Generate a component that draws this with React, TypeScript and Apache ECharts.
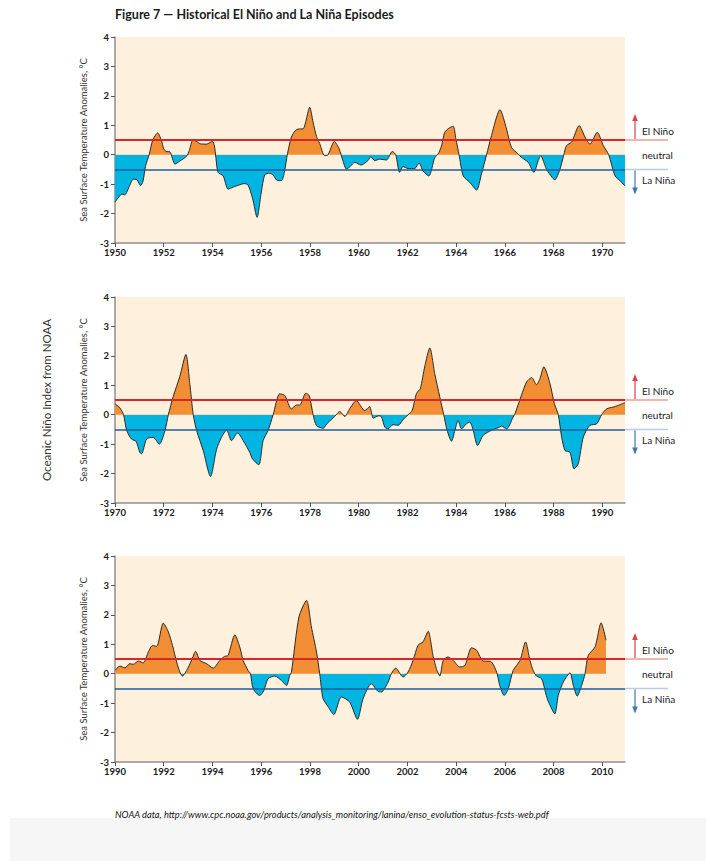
import React, { useEffect, useRef } from "react";
import * as echarts from "echarts";

// ---- Data (Oceanic Niño Index) ----
const oni1950to1970: [number, number][] = [
  [1950.0, -1.6], [1950.15, -1.45], [1950.27, -1.34], [1950.4, -1.36], [1950.6, -1.05], [1950.75, -0.83],
  [1950.9, -0.85], [1951.05, -1.05], [1951.15, -0.9], [1951.25, -0.4], [1951.4, 0.0], [1951.55, 0.5],
  [1951.75, 0.74], [1951.9, 0.5], [1952.0, 0.2], [1952.1, 0.11], [1952.25, 0.1], [1952.46, -0.32],
  [1952.65, -0.22], [1952.94, -0.05], [1953.05, 0.15], [1953.2, 0.5], [1953.35, 0.45], [1953.5, 0.37],
  [1953.75, 0.36], [1954.0, 0.45], [1954.08, 0.3], [1954.14, -0.1], [1954.23, -0.6], [1954.44, -0.72],
  [1954.64, -1.17], [1954.85, -1.1], [1955.12, -1.02], [1955.3, -0.98], [1955.46, -1.03], [1955.65, -1.5],
  [1955.83, -2.13], [1956.0, -1.3], [1956.15, -0.68], [1956.35, -0.63], [1956.5, -0.7], [1956.63, -0.86],
  [1956.83, -0.88], [1956.95, -0.6], [1957.05, -0.1], [1957.12, 0.2], [1957.24, 0.6], [1957.4, 0.82],
  [1957.51, 0.87], [1957.72, 0.88], [1957.99, 1.61], [1958.13, 1.1], [1958.27, 0.62], [1958.4, 0.38],
  [1958.6, -0.03], [1958.72, -0.02], [1959.0, 0.45], [1959.2, 0.2], [1959.35, -0.2], [1959.5, -0.49],
  [1959.65, -0.4], [1959.84, -0.26], [1960.1, -0.35], [1960.38, -0.2], [1960.5, -0.07], [1960.66, -0.2],
  [1960.86, -0.15], [1961.14, -0.18], [1961.38, 0.11], [1961.52, 0.0], [1961.68, -0.6], [1961.82, -0.4],
  [1962.03, -0.47], [1962.3, -0.47], [1962.48, -0.28], [1962.64, -0.55], [1962.88, -0.72], [1963.12, -0.1],
  [1963.26, 0.02], [1963.4, 0.3], [1963.53, 0.76], [1963.7, 0.9], [1963.88, 0.97], [1963.99, 0.53],
  [1964.12, 0.0], [1964.29, -0.72], [1964.56, -0.94], [1964.84, -1.2], [1965.04, -0.65], [1965.25, 0.0],
  [1965.45, 0.65], [1965.8, 1.53], [1966.07, 0.87], [1966.27, 0.25], [1966.55, 0.02], [1966.68, -0.09],
  [1966.96, -0.26], [1967.19, -0.6], [1967.37, -0.2], [1967.47, -0.03], [1967.71, -0.49], [1968.05, -0.85],
  [1968.26, -0.49], [1968.42, 0.0], [1968.53, 0.31], [1968.74, 0.43], [1969.05, 0.99], [1969.29, 0.6],
  [1969.49, 0.36], [1969.79, 0.76], [1970.04, 0.31], [1970.26, 0.0], [1970.52, -0.72], [1970.73, -0.89],
  [1970.93, -1.06],
];

const oni1970to1990: [number, number][] = [
  [1970.0, 0.37], [1970.2, 0.23], [1970.35, 0.0], [1970.48, -0.54], [1970.68, -0.83], [1970.86, -0.9],
  [1971.02, -1.28], [1971.09, -1.33], [1971.3, -0.82], [1971.57, -0.77], [1971.82, -1.0], [1972.05, -0.54],
  [1972.19, 0.0], [1972.39, 0.62], [1972.66, 1.3], [1972.91, 2.05], [1973.07, 1.05], [1973.21, 0.0],
  [1973.35, -0.54], [1973.62, -1.22], [1973.92, -2.1], [1974.17, -1.17], [1974.37, -0.77], [1974.58, -0.52],
  [1974.78, -0.88], [1975.03, -0.62], [1975.26, -0.88], [1975.53, -1.28], [1975.64, -1.5], [1975.9, -1.7],
  [1976.08, -0.88], [1976.28, -0.54], [1976.49, 0.0], [1976.76, 0.71], [1976.97, 0.65], [1977.24, 0.2],
  [1977.45, 0.33], [1977.58, 0.33], [1977.83, 0.73], [1977.97, 0.65], [1978.13, 0.0], [1978.27, -0.37],
  [1978.55, -0.46], [1978.68, -0.32], [1978.95, -0.11], [1979.08, 0.0], [1979.22, 0.11], [1979.43, -0.06],
  [1979.63, 0.2], [1979.9, 0.48], [1980.25, 0.14], [1980.45, 0.27], [1980.6, -0.12], [1980.8, -0.04],
  [1980.93, -0.06], [1981.07, -0.42], [1981.2, -0.48], [1981.41, -0.34], [1981.62, -0.36], [1981.82, -0.17],
  [1982.03, 0.0], [1982.2, 0.15], [1982.37, 0.72], [1982.53, 0.89], [1982.71, 1.63], [1982.92, 2.27],
  [1983.12, 1.4], [1983.33, 0.6], [1983.49, 0.0], [1983.63, -0.53], [1983.81, -0.9], [1983.95, -0.53],
  [1984.08, -0.19], [1984.22, -0.48], [1984.42, -0.31], [1984.56, -0.25], [1984.7, -0.53], [1984.88, -1.05],
  [1985.11, -0.7], [1985.45, -0.53], [1985.73, -0.44], [1985.86, -0.39], [1986.07, -0.48], [1986.34, -0.08],
  [1986.4, 0.0], [1986.68, 0.66], [1986.89, 1.11], [1987.1, 1.26], [1987.3, 1.02], [1987.44, 1.23],
  [1987.6, 1.63], [1987.85, 1.06], [1988.03, 0.38], [1988.19, 0.0], [1988.33, -0.76], [1988.47, -1.22],
  [1988.67, -1.27], [1988.84, -1.84], [1989.01, -1.67], [1989.22, -0.76], [1989.49, -0.36], [1989.77, -0.31],
  [1989.97, 0.0], [1990.18, 0.2], [1990.45, 0.26], [1990.66, 0.32], [1990.93, 0.41],
];

const oni1990to2010: [number, number][] = [
  [1990.0, 0.11], [1990.2, 0.26], [1990.41, 0.2], [1990.61, 0.34], [1990.75, 0.32], [1990.96, 0.43],
  [1991.16, 0.37], [1991.37, 0.74], [1991.54, 0.96], [1991.71, 0.93], [1991.98, 1.72], [1992.19, 1.42],
  [1992.36, 0.96], [1992.53, 0.4], [1992.66, 0.06], [1992.77, -0.08], [1992.94, 0.11], [1993.14, 0.45],
  [1993.31, 0.76], [1993.48, 0.45], [1993.76, 0.34], [1994.03, 0.19], [1994.3, 0.45], [1994.5, 0.59],
  [1994.64, 0.62], [1994.92, 1.32], [1995.12, 0.91], [1995.26, 0.45], [1995.46, 0.11], [1995.56, 0.0],
  [1995.67, -0.51], [1995.94, -0.74], [1996.11, -0.57], [1996.28, -0.17], [1996.56, -0.08], [1996.83, -0.23],
  [1997.04, -0.4], [1997.17, -0.06], [1997.24, 0.05], [1997.55, 1.93], [1997.86, 2.49], [1998.06, 1.59],
  [1998.27, 0.74], [1998.4, 0.0], [1998.54, -0.85], [1998.74, -1.11], [1998.98, -1.39], [1999.29, -0.79],
  [1999.63, -0.96], [1999.95, -1.55], [2000.18, -0.85], [2000.52, -0.34], [2000.79, -0.6], [2000.93, -0.62],
  [2001.21, -0.28], [2001.34, 0.0], [2001.52, 0.19], [2001.82, -0.11], [2002.03, 0.06], [2002.23, 0.45],
  [2002.44, 0.97], [2002.64, 1.08], [2002.85, 1.44], [2003.05, 0.62], [2003.19, 0.17], [2003.33, -0.08],
  [2003.47, 0.45], [2003.67, 0.57], [2003.88, 0.45], [2004.15, 0.23], [2004.36, 0.28], [2004.63, 0.88],
  [2004.84, 0.8], [2005.11, 0.43], [2005.41, 0.42], [2005.66, 0.06], [2005.79, -0.4], [2005.97, -0.74],
  [2006.14, -0.51], [2006.34, 0.11], [2006.62, 0.45], [2006.85, 1.08], [2007.03, 0.45], [2007.16, 0.11],
  [2007.3, -0.08], [2007.51, -0.17], [2007.68, -0.68], [2007.78, -0.94], [2008.05, -1.36], [2008.19, -0.74],
  [2008.4, -0.28], [2008.67, 0.03], [2008.81, -0.4], [2008.97, -0.76], [2009.15, -0.4], [2009.29, 0.0],
  [2009.42, 0.62], [2009.7, 0.91], [2009.95, 1.73], [2010.15, 1.14],
];

const panelData = [oni1950to1970, oni1970to1990, oni1990to2010];
const xStart = [1950, 1970, 1990];
const xEnd = [1970.93, 1990.93, 2010.93];
const xTicks1 = [1950, 1952, 1954, 1956, 1958, 1960, 1962, 1964, 1966, 1968, 1970];
const xTicks2 = [1970, 1972, 1974, 1976, 1978, 1980, 1982, 1984, 1986, 1988, 1990];
const xTicks3 = [1990, 1992, 1994, 1996, 1998, 2000, 2002, 2004, 2006, 2008, 2010];
const panelTicks = [xTicks1, xTicks2, xTicks3];
const yMin = -3;
const yMax = 4;
const elNinoLevel = 0.5;
const laNinaLevel = -0.5;

const TITLE = "Figure 7 \u2014 Historical El Niño and La Niña Episodes";
const Y_NAME = "Sea Surface Temperature Anomalies, °C";
const SIDE_TITLE = "Oceanic Niño Index from NOAA";
const SOURCE =
  "NOAA data, http://www.cpc.noaa.gov/products/analysis_monitoring/lanina/enso_evolution-status-fcsts-web.pdf";
const LABEL_EL = "El Niño";
const LABEL_NEUTRAL = "neutral";
const LABEL_LA = "La Niña";

// ---- Styles ----
const FONT = "Lato, 'Open Sans', sans-serif";
const ORANGE = "#f28e33";
const CYAN = "#00b5e2";
const BEIGE = "#fdf1de";
const RED = "#d8262d";
const BLUE = "#1d5d9c";
const RED_FADED = "#f2b6aa";
const BLUE_FADED = "#b9cce2";
const AXIS = "#8f8f8f";
const TEXT = "#1a1a1a";

const GRID_LEFT = 115;
const GRID_WIDTH = 510;
const GRID_HEIGHT = 206;
const GRID_TOPS = [37, 297, 556];

export default function App() {
  const ref = useRef<HTMLDivElement>(null);

  useEffect(() => {
    if (!ref.current) return;
    const chart = echarts.init(ref.current, undefined, { renderer: "svg" });

    const grid = GRID_TOPS.map((top) => ({
      left: GRID_LEFT,
      top,
      width: GRID_WIDTH,
      height: GRID_HEIGHT,
      show: true,
      backgroundColor: BEIGE,
      borderWidth: 0,
    }));

    const xAxis = panelData.map((_, i) => ({
      type: "value",
      gridIndex: i,
      min: xStart[i],
      max: xEnd[i],
      interval: 2,
      splitLine: { show: false },
      axisLine: { show: true, onZero: false, lineStyle: { color: AXIS, width: 1.5 } },
      axisTick: { show: true, length: 4, lineStyle: { color: "#555", width: 1 }, customValues: panelTicks[i] },
      axisLabel: {
        customValues: panelTicks[i],
        color: TEXT,
        fontFamily: FONT,
        fontWeight: "bold",
        fontSize: 9.5,
        margin: 4,
        formatter: (v: number) => (Math.abs(v - Math.round(v)) < 1e-6 ? String(Math.round(v)) : ""),
      },
    }));

    const yAxis = panelData.map((_, i) => ({
      type: "value",
      gridIndex: i,
      min: yMin,
      max: yMax,
      interval: 1,
      name: Y_NAME,
      nameLocation: "middle",
      nameGap: 27,
      nameTextStyle: { color: "#333", fontFamily: FONT, fontSize: 9.5 },
      splitLine: { show: false },
      axisLine: { show: true, onZero: false, lineStyle: { color: AXIS, width: 1.5 } },
      axisTick: { show: true, length: 4, lineStyle: { color: "#555", width: 1 } },
      axisLabel: { color: TEXT, fontFamily: FONT, fontWeight: "bold", fontSize: 9.5, margin: 6 },
    }));

    const series: any[] = [];
    panelData.forEach((data, i) => {
      series.push({
        type: "line",
        name: "fill" + i,
        xAxisIndex: i,
        yAxisIndex: i,
        data,
        smooth: 0.25,
        symbol: "none",
        showSymbol: false,
        silent: true,
        lineStyle: { width: 0 },
        areaStyle: { opacity: 1 },
        z: 2,
      });
      series.push({
        type: "line",
        name: "oni" + i,
        xAxisIndex: i,
        yAxisIndex: i,
        data,
        smooth: 0.25,
        symbol: "none",
        showSymbol: false,
        silent: true,
        lineStyle: { color: "#2a2a2a", width: 1 },
        z: 3,
        markLine: {
          silent: true,
          symbol: ["none", "none"],
          label: { show: false },
          data: [
            { yAxis: elNinoLevel, lineStyle: { color: RED, width: 2, type: "solid" } },
            { yAxis: laNinaLevel, lineStyle: { color: BLUE, width: 1.6, type: "solid" } },
          ],
        },
      });
    });

    chart.setOption({
      animation: false,
      backgroundColor: "#ffffff",
      grid,
      xAxis,
      yAxis,
      visualMap: {
        show: false,
        type: "piecewise",
        seriesIndex: [0, 2, 4],
        dimension: 1,
        pieces: [
          { gte: -10, lt: 0, color: CYAN },
          { gte: 0, lte: 10, color: ORANGE },
        ],
        outOfRange: { color: CYAN },
      },
      series,
    });

    // Annotations placed relative to the axes' own scales
    const graphics: any[] = [
      {
        type: "rect",
        shape: { x: 10, y: 818, width: 696, height: 43 },
        style: { fill: "#f6f6f6" },
        silent: true,
      },
      {
        type: "text",
        x: 115,
        y: 14,
        style: {
          text: TITLE,
          fill: TEXT,
          font: `bold 12.5px ${FONT}`,
          verticalAlign: "middle",
        },
      },
      {
        type: "text",
        x: 115,
        y: 814,
        style: {
          text: SOURCE,
          fill: "#111",
          font: `italic 9.3px ${FONT}`,
          verticalAlign: "middle",
        },
      },
    ];

    panelData.forEach((_, i) => {
      const [xr, yRed] = chart.convertToPixel({ gridIndex: i }, [xEnd[i], elNinoLevel]) as number[];
      const [, yZero] = chart.convertToPixel({ gridIndex: i }, [xEnd[i], 0]) as number[];
      const [, yBlue] = chart.convertToPixel({ gridIndex: i }, [xEnd[i], laNinaLevel]) as number[];
      const ax = xr + 10;
      graphics.push(
        { type: "line", shape: { x1: xr, y1: yRed, x2: xr + 43, y2: yRed }, style: { stroke: RED_FADED, lineWidth: 2 } },
        { type: "line", shape: { x1: xr, y1: yBlue, x2: xr + 43, y2: yBlue }, style: { stroke: BLUE_FADED, lineWidth: 1.6 } },
        { type: "line", shape: { x1: ax, y1: yRed - 1, x2: ax, y2: yRed - 20 }, style: { stroke: "#d9434a", lineWidth: 1.2 } },
        { type: "polygon", shape: { points: [[ax, yRed - 26], [ax - 2.8, yRed - 19], [ax + 2.8, yRed - 19]] }, style: { fill: "#d9434a" } },
        { type: "line", shape: { x1: ax, y1: yBlue + 1, x2: ax, y2: yBlue + 19 }, style: { stroke: "#3e78b2", lineWidth: 1.2 } },
        { type: "polygon", shape: { points: [[ax, yBlue + 25], [ax - 2.8, yBlue + 18], [ax + 2.8, yBlue + 18]] }, style: { fill: "#3e78b2" } },
        { type: "text", x: xr + 17, y: yRed - 9.5, style: { text: LABEL_EL, fill: TEXT, font: `10px ${FONT}`, verticalAlign: "middle" } },
        { type: "text", x: xr + 17, y: yZero + 0.5, style: { text: LABEL_NEUTRAL, fill: TEXT, font: `10px ${FONT}`, verticalAlign: "middle" } },
        { type: "text", x: xr + 17, y: yBlue + 11, style: { text: LABEL_LA, fill: TEXT, font: `10px ${FONT}`, verticalAlign: "middle" } }
      );
    });

    const mid = chart.convertToPixel({ gridIndex: 1 }, [xStart[1], (yMin + yMax) / 2]) as number[];
    graphics.push({
      type: "text",
      x: 46,
      y: mid[1],
      rotation: Math.PI / 2,
      style: {
        text: SIDE_TITLE,
        fill: "#333",
        font: `11.5px ${FONT}`,
        align: "center",
        verticalAlign: "middle",
      },
    });

    chart.setOption({ graphic: { elements: graphics } });

    return () => {
      chart.dispose();
    };
  }, []);

  return (
    <div
      ref={ref}
      style={{ position: "absolute", left: 0, top: 0, width: 706, height: 861 }}
    />
  );
}
